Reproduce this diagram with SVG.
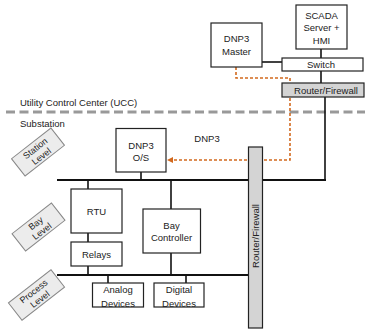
<svg xmlns="http://www.w3.org/2000/svg" width="365" height="333" viewBox="0 0 365 333">
<style>
text{font-family:"Liberation Sans",Arial,sans-serif;font-size:9.5px;fill:#222;text-anchor:middle}
.box{fill:#fff;stroke:#222;stroke-width:1.2}
.gbox{fill:#d4d4d4;stroke:#222;stroke-width:1.2}
.ln{stroke:#111;stroke-width:1.6;fill:none}
.bus{stroke:#111;stroke-width:2;fill:none}
.or{stroke:#d2691e;stroke-width:1.6;stroke-dasharray:3,2;fill:none}
.lvl{fill:#ececec;stroke:#888;stroke-width:1}
.lt{font-size:9px}
.left{text-anchor:start}
</style>
<defs>
<marker id="ah" markerWidth="6" markerHeight="6" refX="5" refY="3" orient="auto" markerUnits="userSpaceOnUse">
<path d="M0,0 L6,3 L0,6 z" fill="#d2691e"/>
</marker>
</defs>

<text class="left" x="20" y="106">Utility Control Center (UCC)</text>
<line x1="6" y1="112" x2="365" y2="112" stroke="#999" stroke-width="3" stroke-dasharray="9,4.5"/>
<text class="left" x="20" y="127">Substation</text>

<g id="connectors">
<line class="ln" x1="262" y1="62" x2="282" y2="62"/>
<line class="ln" x1="321" y1="49" x2="321" y2="58"/>
<line class="ln" x1="321" y1="71" x2="321" y2="83"/>
<polyline class="ln" points="325,97 325,180"/>
<line class="bus" x1="57" y1="180" x2="326" y2="180"/>
<line class="bus" x1="57" y1="275" x2="249" y2="275"/>
<line class="ln" x1="141" y1="172" x2="141" y2="180"/>
<line class="ln" x1="88" y1="180" x2="88" y2="189"/>
<line class="ln" x1="88" y1="233" x2="88" y2="242"/>
<line class="ln" x1="88" y1="266" x2="88" y2="275"/>
<line class="ln" x1="171" y1="180" x2="171" y2="209"/>
<line class="ln" x1="171" y1="253" x2="171" y2="275"/>
<line class="ln" x1="108" y1="275" x2="108" y2="283"/>
<line class="ln" x1="186" y1="275" x2="186" y2="283"/>
<polyline class="or" points="236,67 236,78 290,78 290,160 168,160" marker-end="url(#ah)"/>
<text x="207" y="141.5">DNP3</text>
</g>

<g id="master"><rect class="box" x="211" y="23" width="51" height="44"/><text x="236.5" y="42">DNP3</text><text x="236.5" y="55">Master</text></g>
<g id="scada"><rect class="box" x="296" y="5" width="51" height="44"/><text x="321.5" y="18.5">SCADA</text><text x="321.5" y="31">Server +</text><text x="321.5" y="43.5">HMI</text></g>
<g id="switch"><rect class="box" x="282" y="58" width="81" height="13"/><text x="321" y="68">Switch</text></g>
<g id="router-top"><rect class="gbox" x="282" y="83" width="82" height="14"/><text x="326" y="93.5">Router/Firewall</text></g>
<g id="router-sub"><rect class="gbox" x="248.5" y="147" width="14" height="181"/><text transform="translate(258.8,236) rotate(-90)">Router/Firewall</text></g>
<g id="os"><rect class="box" x="116" y="128.5" width="50" height="43.5"/><text x="141" y="148.5">DNP3</text><text x="141" y="161">O/S</text></g>
<g id="rtu"><rect class="box" x="71" y="189" width="51" height="44"/><text x="96.5" y="215">RTU</text></g>
<g id="relays"><rect class="box" x="71" y="242" width="51" height="24"/><text x="96.5" y="257.5">Relays</text></g>
<g id="baycontroller"><rect class="box" x="143" y="209" width="57.5" height="44"/><text x="171.5" y="228.5">Bay</text><text x="171.5" y="241">Controller</text></g>
<g id="analog"><rect x="92.5" y="283" width="51" height="24" fill="#fff"/><text x="118" y="292.5">Analog</text><text x="118" y="307">Devices</text><rect x="92.5" y="283" width="51" height="24" fill="none" stroke="#222" stroke-width="1.2"/></g>
<g id="digital"><rect x="154" y="283" width="50" height="24" fill="#fff"/><text x="179" y="292.5">Digital</text><text x="179" y="307">Devices</text><rect x="154" y="283" width="50" height="24" fill="none" stroke="#222" stroke-width="1.2"/></g>

<g id="station-level" transform="translate(38,152) rotate(-38)"><rect class="lvl" x="-25" y="-11" width="50" height="22"/><text class="lt" x="0" y="-1.5">Station</text><text class="lt" x="0" y="8.5">Level</text></g>
<g id="bay-level" transform="translate(38.5,227) rotate(-38)"><rect class="lvl" x="-25" y="-11" width="50" height="22"/><text class="lt" x="0" y="-1.5">Bay</text><text class="lt" x="0" y="8.5">Level</text></g>
<g id="process-level" transform="translate(36.5,295) rotate(-38)"><rect class="lvl" x="-27" y="-11" width="54" height="22"/><text class="lt" x="0" y="-1.5">Process</text><text class="lt" x="0" y="8.5">Level</text></g>
</svg>
